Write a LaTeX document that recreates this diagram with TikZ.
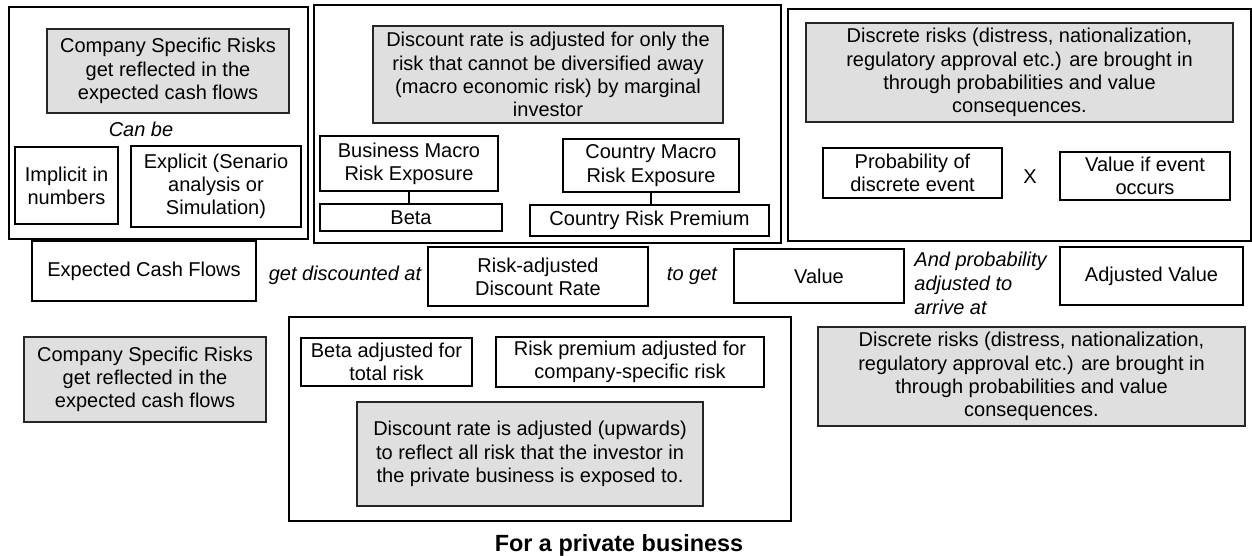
\documentclass[tikz,border=0pt]{standalone}
\usepackage{fontspec}
\setmainfont{Liberation Sans}
\usepackage{xcolor}
\definecolor{riskgray}{HTML}{DFDFDF}

\begin{document}
\begin{tikzpicture}[x=0.5pt,y=-0.5pt,
  every node/.style={font=\fontsize{10}{11.6}\selectfont},
  boxsize/.style 2 args={minimum width=#1*0.5pt,minimum height=#2*0.5pt},
  frame node/.style={draw,line width=1pt,inner sep=0pt},
  plain node/.style={draw,line width=0.7pt,align=center,inner sep=0pt},
  gray node/.style={draw=black!85,fill=riskgray,line width=0.8pt,align=center,inner sep=0pt},
  link text/.style={font=\fontsize{10}{12}\selectfont\itshape,align=left,inner sep=0pt}]

            \useasboundingbox (0,0) rectangle (1252,556);

            % outer frames
            \node[frame node, boxsize={299}{232}] (frameA) at (158.5,123) {};
            \node[frame node, boxsize={467}{238}] (frameB) at (547.5,124) {};
            \node[frame node, boxsize={463}{232}] (frameC) at (1019.5,125) {};
            \node[frame node, boxsize={502}{204}] (frameD) at (540,419) {};

            % cash flow side
            \node[gray node, boxsize={242}{84}] (csrTop) at (168,71) {Company Specific Risks\\get reflected in the\\expected cash flows};
            \node[link text] (canBe) at (141,129) {Can be};
            \node[plain node, boxsize={103}{77}] (implicit) at (66.5,185.5) {Implicit in\\numbers};
            \node[plain node, boxsize={170}{81}] (explicit) at (216,186.5) {Explicit (Senario\\analysis or\\Simulation)};

            % discount rate side
            \node[gray node, boxsize={350}{97}] (discTop) at (548,74.5) {Discount rate is adjusted for only the\\risk that cannot be diversified away\\(macro economic risk) by marginal\\investor};
            \node[plain node, boxsize={178}{55}] (bizMacro) at (409,163.5) {Business Macro\\Risk Exposure};
            \node[plain node, boxsize={182}{27}] (beta) at (411,217.5) {Beta};
            \node[plain node, boxsize={176}{53}] (ctyMacro) at (651,165.5) {Country Macro\\Risk Exposure};
            \node[plain node, boxsize={239}{31}] (crp) at (649.5,220.5) {Country Risk Premium};

            % discrete risk side
            \node[gray node, boxsize={427}{99}] (discrTop) at (1019.5,72.5) {Discrete risks (distress, nationalization,\\regulatory approval etc.) are brought in\\through probabilities and value\\consequences.};
            \node[plain node, boxsize={179}{50}] (probEvent) at (912.5,173) {Probability of\\discrete event};
            \node (times) at (1030,177) {X};
            \node[plain node, boxsize={170}{48}] (valueEvent) at (1145,176) {Value if event\\occurs};

            % main row
            \node[plain node, boxsize={224}{60}] (ecf) at (144,271) {Expected Cash Flows};
            \node[link text] (getDisc) at (345,275) {get discounted at};
            \node[plain node, boxsize={220}{59}] (radr) at (538,276.5) {Risk-adjusted\\Discount Rate};
            \node[link text] (toGet) at (692,276) {to get};
            \node[plain node, boxsize={170}{54}] (value) at (819,276) {Value};
            \node[link text, anchor=west] (andProb) at (914,283) {And probability\\adjusted to\\arrive at};
            \node[plain node, boxsize={183}{58}] (adjValue) at (1151.5,276) {Adjusted Value};

            % private business
            \node[gray node, boxsize={242}{85}] (csrBot) at (145,379.5) {Company Specific Risks\\get reflected in the\\expected cash flows};
            \node[plain node, boxsize={171}{48}] (betaAdj) at (386.5,362) {Beta adjusted for\\total risk};
            \node[plain node, boxsize={268}{50}] (rpAdj) at (630,362) {Risk premium adjusted for\\company-specific risk};
            \node[gray node, boxsize={346}{104}] (discBot) at (530,454) {Discount rate is adjusted (upwards)\\to reflect all risk that the investor in\\the private business is exposed to.};
            \node[gray node, boxsize={427}{99}] (discrBot) at (1031.5,376.5) {Discrete risks (distress, nationalization,\\regulatory approval etc.) are brought in\\through probabilities and value\\consequences.};
            \node[font=\fontsize{11.7}{14}\selectfont\bfseries] (title) at (619,545) {For a private business};

            \draw[-, line width=0.7pt] (bizMacro.south) to (bizMacro.south |- beta.north);
            \draw[-, line width=0.7pt] (ctyMacro.south) to (ctyMacro.south |- crp.north);

            ;
        \end{tikzpicture}
\end{document}
